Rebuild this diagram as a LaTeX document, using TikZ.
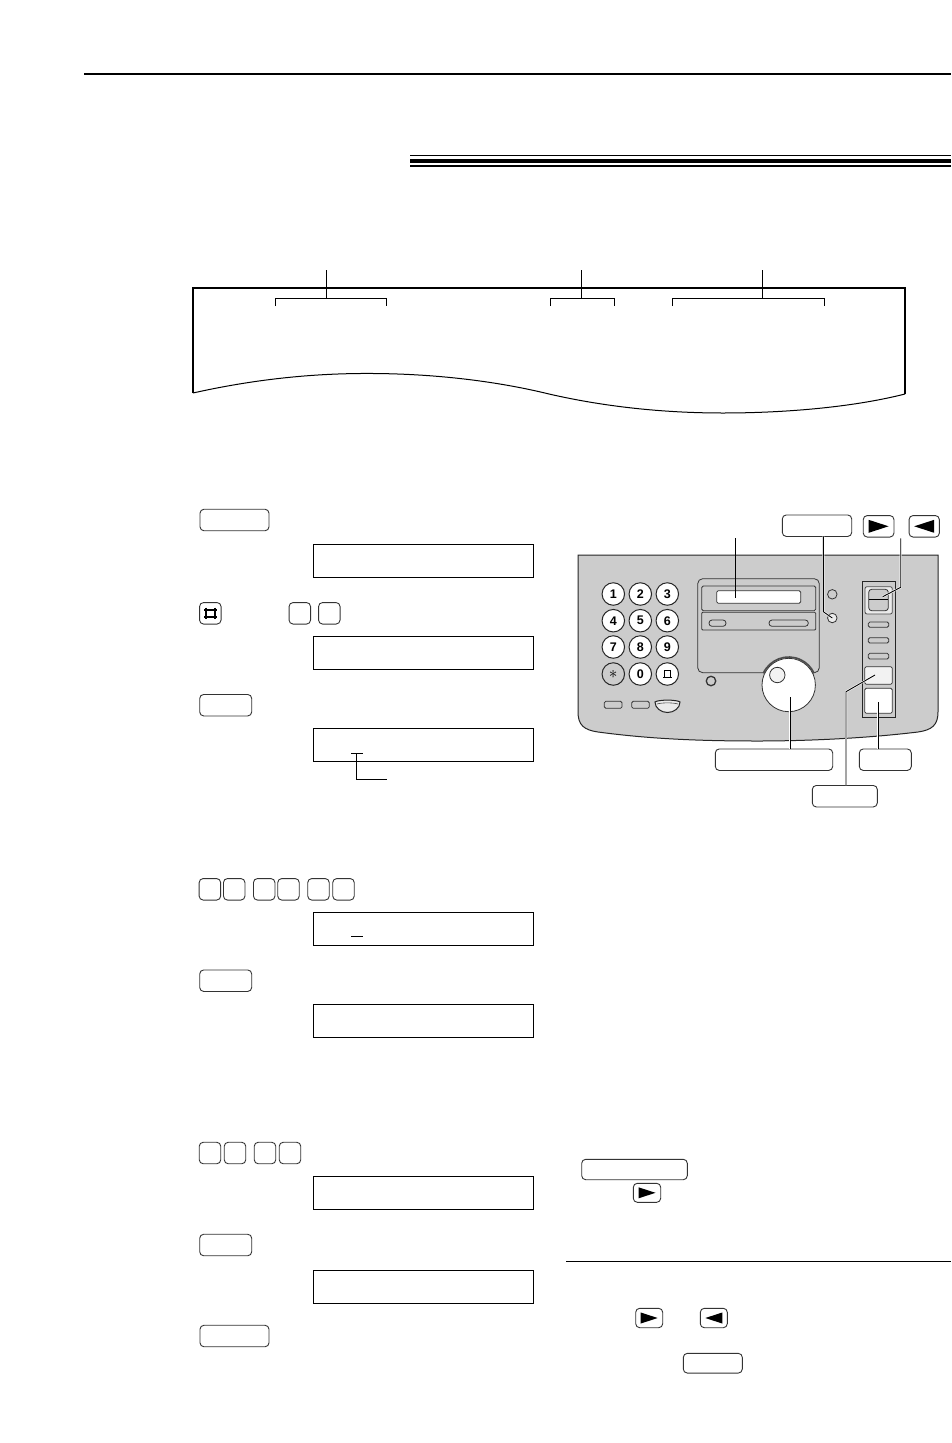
\documentclass[tikz,border=0pt]{standalone}
\usepackage{fontspec}
\setmainfont{Liberation Sans}
\usetikzlibrary{arrows.meta,positioning,calc}

\begin{document}
\begin{tikzpicture}[
  x=1pt, y=-1pt,
  keybox/.style={draw=black!80, line width=.9pt, rounded corners=4pt, inner sep=0pt,
                 minimum height=21.5pt, minimum width=21.5pt},
  lcd/.style={draw, line width=1pt, inner sep=0pt, minimum width=220pt, minimum height=33pt},
  rule/.style={line width=1.2pt},
  leader/.style={draw=black, line width=.9pt, preaction={draw=white, line width=2pt}},
  padkey/.style={draw=black!85, fill=white, circle, line width=1pt, inner sep=0pt,
                 minimum size=22.5pt, font=\fontsize{12.5}{14}\selectfont\bfseries},
  panelpart/.style={draw=black!80, fill=black!20, line width=.8pt},
  slot/.style={draw=black!80, fill=black!20, line width=.8pt, rounded corners=1.5pt},
  lamp/.style={draw=black!80, fill=black!20, circle, line width=.8pt, inner sep=0pt, minimum size=9.5pt},
  tri right/.pic={\fill (-10,-6.5) -- (10,0) -- (-10,6.5) -- cycle;},
  tri left/.pic={\fill (10,-6.5) -- (-10,0) -- (10,6.5) -- cycle;},
]
\useasboundingbox (0,0) rectangle (951,1443);

\draw[line width=2pt] (84,73.5) -- (951,73.5);
\draw[line width=1pt] (410,155.5) -- (951,155.5);
\draw[line width=3.8pt] (410,161) -- (951,161);
\draw[line width=1.8pt] (410,165.8) -- (951,165.8);

\draw[rule] (193,393) -- (193,288) -- (905,288) -- (905,394);
\draw[line width=1pt] (193,393) .. controls (260,378) and (320,373) .. (374,373.5)
  .. controls (440,374) and (500,382) .. (549,394)
  .. controls (610,408) and (670,413) .. (723,413)
  .. controls (780,413) and (850,408) .. (905,394);
\foreach \name/\xa/\xm/\xb in {dateA/275.5/326/386.5, timeA/550.5/581/614.5, pagesA/672.5/762.5/824.5} {
  \coordinate (\name) at (\xm,298);
  \draw[line width=1pt] (\xa,306) |- (\xb,298) -- (\xb,306);
  \draw[line width=.8pt] (\xm,270) -- (\name);
}

\node[keybox, minimum width=69pt] (menuA) at (234.5,520) {};
\node[lcd] (lcdA) at (423.3,560.8) {};
\node[keybox] (hashkey) at (210.3,613.3) {};
\draw[line width=2pt] (205.5,607.5) -- (205.5,619) (215,607.5) -- (215,619)
  (204,609.5) -- (216.5,609.5) (204,617) -- (216.5,617);
\node[keybox] (codeA) at (299.8,613.3) {};
\node[keybox] (codeB) at (329.3,613.3) {};
\node[lcd] (lcdB) at (423.3,652.8) {};
\node[keybox, minimum width=52pt] (setA) at (225.7,705.2) {};
\node[lcd] (lcdC) at (423.3,745) {};
\coordinate (cursorA) at (356.5,753.3);
\coordinate (cursorB) at (386.7,779.3);
\draw[line width=.9pt] (351,753.3) -- (363,753.3);
\draw[line width=.9pt] (cursorA) |- (cursorB);

\foreach \x [count=\i] in {209.9,234.2,264.2,288.5,318.5,343.5}
  \node[keybox] (dateKey\i) at (\x,889.3) {};
\node[lcd] (lcdD) at (423.3,928.8) {};
\draw[line width=.9pt] (351,936.3) -- (363,936.3);
\node[keybox, minimum width=52pt] (setB) at (225.7,980.7) {};
\node[lcd] (lcdE) at (423.3,1020.8) {};

\foreach \x [count=\i] in {210,235,265,290}
  \node[keybox] (timeKey\i) at (\x,1153) {};
\node[lcd] (lcdF) at (423.3,1192.8) {};
\node[keybox, minimum width=52pt] (setC) at (225.7,1245) {};
\node[lcd] (lcdG) at (423.3,1286.8) {};
\node[keybox, minimum width=69pt] (menuB) at (234.5,1336) {};

% fax panel
\draw[line width=1pt, draw=black!85, fill=black!20] (578,555) -- (938,555) -- (938,712)
  .. controls (938,725) and (932,730) .. (918,732)
  .. controls (860,739) and (800,741) .. (758,741)
  .. controls (700,741) and (650,739) .. (598,732)
  .. controls (584,730) and (578,725) .. (578,712) -- cycle;

\foreach \lab/\x/\y in {1/613.3/594, 2/640.3/594, 3/667.3/594, 4/613.3/620.7, 5/640.3/620.7,
  6/667.3/620.7, 7/613.3/647, 8/640.3/647, 9/667.3/647, 0/640.3/674}
  \node[padkey] (pad\lab) at (\x,\y) {\lab};
\node[padkey, fill=black!20, font=\fontsize{17}{17}\selectfont] (padstar) at (613.3,674) {$\ast$};
\node[padkey] (padhash) at (667.3,674) {};
\draw[line width=1pt] ([shift={(-2.5,3.5)}]padhash.center) -- ++(0,-7) -- ++(6,0) -- ++(0,7)
  ([shift={(-4,3.5)}]padhash.center) -- ++(9,0);

\draw[slot] (604.3,701.3) rectangle (622,708.3);
\draw[slot] (631.7,701.3) rectangle (649.3,708.3);
\draw[draw=black!85, fill=black!8, line width=1pt] (655,702) .. controls (658,699.5) and (677,699.5) .. (680,702)
  .. controls (680,708) and (674,712.5) .. (667.5,712.5) .. controls (661,712.5) and (655,708) .. (655,702) -- cycle;
\draw[line width=.6pt, draw=black!70] (657,704) .. controls (662,702.5) and (673,702.5) .. (678,704);

\node[lamp, line width=1.3pt] (lampA) at (711,681) {};
\draw[panelpart, rounded corners=5pt] (697.7,672.7) -- (697.7,578.7) -- (819.3,578.7) -- (819.3,672.7) -- cycle;
\draw[panelpart, rounded corners=1.5pt] (701.7,586) rectangle (815.7,610.7);
\node[draw=black!80, fill=white, line width=.8pt, rounded corners=1.5pt, inner sep=0pt,
  minimum width=84pt, minimum height=12.6pt] (window) at (758.7,597) {};
\draw[panelpart, rounded corners=1pt] (701.7,612.3) rectangle (815.7,630);
\draw[slot, rounded corners=3pt] (709,620) rectangle (726,626.3);
\draw[slot, rounded corners=3pt] (769,620) rectangle (808.3,626.3);

\node[lamp] (lampB) at (832.3,594.3) {};
\node[lamp, fill=black!8] (lampC) at (832.3,618) {};

\coordinate (dialO) at (788.7,685);
\draw[draw=black!70, line width=1.6pt] ([shift={(205:28)}]dialO) arc (205:335:28);
\node[draw=black!80, fill=white, circle, line width=.8pt, inner sep=0pt, minimum size=53.4pt] (dial) at (dialO) {};
\node[draw=black!80, fill=black!5, circle, line width=.8pt, inner sep=0pt, minimum size=15.4pt] (dialknob) at (777.3,675) {};
\coordinate (dialC) at (790.3,696.7);

\draw[draw=black!85, fill=black!20, line width=1pt] (862,581) rectangle (895,717);
\draw[draw=black!70, fill=black!8, line width=.8pt, rounded corners=2pt] (865,586.7) rectangle (892.3,614);
\draw[draw=black!80, fill=black!20, line width=.8pt, rounded corners=3pt] (868.7,589.3) rectangle (888.3,610.7);
\draw[line width=1pt] (868.7,599) -- (888.3,599);
\coordinate (arrowC) at (882.7,596.7);
\foreach \y/\yb in {622/627.3, 637.7/643, 653.3/659}
  \draw[slot] (868.3,\y) rectangle (888.7,\yb);
\draw[draw=black!80, fill=black!5, line width=.8pt, rounded corners=1.5pt] (864.7,666.7) rectangle (892.3,684.3);
\draw[draw=black!80, fill=white, line width=.8pt, rounded corners=1.5pt] (864.7,688.3) rectangle (892.3,713.3);
\coordinate (stopC) at (875,675);
\coordinate (setC2) at (878.3,701.7);

% labels round the panel
\coordinate (windowT) at (735,538.3);
\coordinate (windowC) at (735,597.7);
\node[keybox, minimum width=69.4pt] (menuC) at (817,525.7) {};
\node[keybox, minimum width=30.7pt] (rightC) at (878.6,526.3) {};
\pic at (rightC.center) {tri right};
\node[keybox, minimum width=30.3pt] (leftC) at (924.2,526.3) {};
\pic at (leftC.center) {tri left};
\coordinate (leftD) at (900.7,538.3);
\node[keybox, minimum width=117.4pt] (volkey) at (774,759.7) {};
\node[keybox, minimum width=52pt] (setD) at (885.3,759.7) {};
\node[keybox, minimum width=65pt] (copykey) at (844.8,796.2) {};

\draw[line width=.8pt] (windowT) -- (windowC);
\path[leader] (823.3,536.3) -- (823.3,611.7) -- (lampC.center);
\path[leader] (leftD) -- (900.7,587.3) -- (arrowC);
\path[leader] (volkey.north -| dialC) -- (dialC);
\path[leader] (setD.north -| setC2) -- (setC2);
\path[leader] (846,785.1) -- (846,691.7) -- (stopC);

\node[keybox, minimum width=105.6pt, minimum height=20.4pt] (helpkey) at (634.5,1169.5) {};
\node[keybox, minimum width=27.4pt, minimum height=19pt] (rightE) at (647,1192.8) {};
\pic[scale=.85] at (rightE.center) {tri right};
\draw[line width=1pt] (566,1261.3) -- (951,1261.3);
\node[keybox, minimum width=27pt, minimum height=19.4pt] (rightF) at (649.2,1318) {};
\pic[scale=.85] at (rightF.center) {tri right};
\node[keybox, minimum width=27pt, minimum height=19.4pt] (leftF) at (713.8,1318) {};
\pic[scale=.85] at (leftF.center) {tri left};
\node[keybox, minimum width=59pt, minimum height=19.7pt] (setE) at (712.8,1363.2) {};
\end{tikzpicture}
\end{document}
